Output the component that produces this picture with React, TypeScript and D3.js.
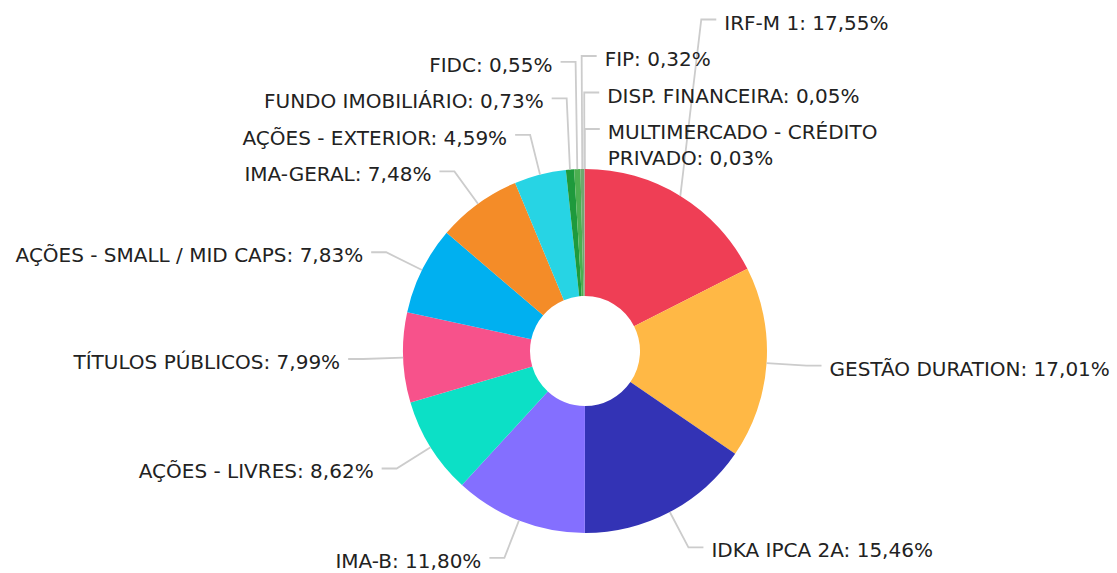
import React, { useMemo } from 'react';
import * as d3 from 'd3';

// ---- data ----
const categories: string[] = [
  'IRF-M 1',
  'GESTÃO DURATION',
  'IDKA IPCA 2A',
  'IMA-B',
  'AÇÕES - LIVRES',
  'TÍTULOS PÚBLICOS',
  'AÇÕES - SMALL / MID CAPS',
  'IMA-GERAL',
  'AÇÕES - EXTERIOR',
  'FUNDO IMOBILIÁRIO',
  'FIDC',
  'FIP',
  'DISP. FINANCEIRA',
  'MULTIMERCADO - CRÉDITO PRIVADO',
];
const values: number[] = [17.55, 17.01, 15.46, 11.8, 8.62, 7.99, 7.83, 7.48, 4.59, 0.73, 0.55, 0.32, 0.05, 0.03];
const colors: string[] = [
  '#ef3e55', '#ffb845', '#3333b5', '#846fff', '#0ce0c6', '#f7528b', '#00b0f0',
  '#f48c28', '#27d4e4', '#1e9a3c', '#4caf50', '#6fa86f', '#9e9e9e', '#c0504d',
];

// ---- layout constants ----
const W = 1117, H = 573;
const CX = 585, CY = 351, R = 182, R_IN = 55;
const R_ELBOW = 222, SEG = 15, GAP = 8;
const FONT = 20, FONT_FAMILY = '"DejaVu Sans", Verdana, sans-serif';
const LINE_H = 26, SPACING = 36.5, MIN_TOP = 28, MAX_LABEL_W = 400;

const fmt = (v: number) => v.toFixed(2).replace('.', ',') + '%';

let ctx: CanvasRenderingContext2D | null = null;
function measure(t: string): number {
  if (!ctx) {
    const c = document.createElement('canvas');
    ctx = c.getContext('2d');
  }
  if (!ctx) return t.length * FONT * 0.6;
  ctx.font = `${FONT}px ${FONT_FAMILY}`;
  return ctx.measureText(t).width;
}

function wrap(text: string): string[] {
  if (measure(text) <= MAX_LABEL_W) return [text];
  const words = text.split(' ');
  const lines: string[] = [];
  let cur = '';
  for (const w of words) {
    const cand = cur ? cur + ' ' + w : w;
    if (cur && measure(cand) > MAX_LABEL_W * 0.75) {
      lines.push(cur);
      cur = w;
    } else cur = cand;
  }
  if (cur) lines.push(cur);
  return lines;
}

type Item = {
  i: number; a: number; natY: number; ex: number; y: number;
  lines: string[]; side: 'L' | 'R';
};

function relax(list: Item[]) {
  const n = list.length;
  if (!n) return;
  list[n - 1].y = list[n - 1].natY;
  for (let k = n - 2; k >= 0; k--) {
    const need = SPACING + (list[k].lines.length - 1) * LINE_H;
    list[k].y = Math.min(list[k].natY, list[k + 1].y - need);
  }
}

export default function App() {
  const { arcs, items } = useMemo(() => {
    const pie = d3.pie<number>().sort(null).value((d) => d)(values);
    const items: Item[] = pie.map((p, i) => {
      const a = (p.startAngle + p.endAngle) / 2;
      return {
        i, a,
        natY: CY - R_ELBOW * Math.cos(a),
        ex: CX + R_ELBOW * Math.sin(a),
        y: 0,
        lines: wrap(`${categories[i]}: ${fmt(values[i])}`),
        side: Math.sin(a) >= 0 ? 'R' : 'L',
      } as Item;
    });
    const left = items.filter((d) => d.side === 'L').sort((p, q) => p.natY - q.natY);
    const right = items.filter((d) => d.side === 'R').sort((p, q) => p.natY - q.natY);
    const moved: Item[] = [];
    relax(left);
    while (left.length && left[0].y < MIN_TOP) {
      const m = left.shift()!;
      m.side = 'R';
      moved.push(m);
      relax(left);
    }
    const rightOrder = right.length
      ? [right[0], ...moved.slice().reverse(), ...right.slice(1)]
      : moved.slice().reverse();
    relax(rightOrder);
    return { arcs: pie, items };
  }, []);

  const arcGen = d3.arc<d3.PieArcDatum<number>>().innerRadius(R_IN).outerRadius(R);

  return (
    <svg width={W} height={H} style={{ position: 'absolute', left: 0, top: 0, background: '#fff' }}>
      <g transform={`translate(${CX},${CY})`}>
        {arcs.map((d, i) => (
          <path key={i} d={arcGen(d) || ''} fill={colors[i]} />
        ))}
      </g>
      {items.map((it) => {
        const ax = CX + R * Math.sin(it.a);
        const ay = CY - R * Math.cos(it.a);
        const dir = it.side === 'R' ? 1 : -1;
        const endX = it.ex + dir * SEG;
        const tx = it.ex + dir * (SEG + GAP);
        return (
          <g key={it.i}>
            <polyline
              points={`${ax},${ay} ${it.ex},${it.y} ${endX},${it.y}`}
              fill="none"
              stroke="#cccccc"
              strokeWidth={1.8}
            />
            <text
              x={tx}
              y={it.y + 10}
              fontFamily={FONT_FAMILY}
              fontSize={FONT}
              fill="#222"
              textAnchor={it.side === 'R' ? 'start' : 'end'}
            >
              {it.lines.map((l, k) => (
                <tspan key={k} x={tx} dy={k === 0 ? 0 : LINE_H}>{l}</tspan>
              ))}
            </text>
          </g>
        );
      })}
    </svg>
  );
}
